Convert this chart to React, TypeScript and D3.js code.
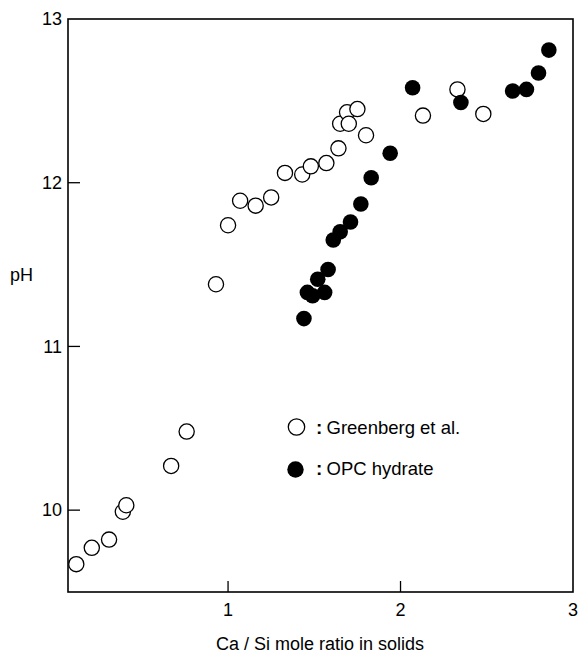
import * as d3 from "d3";

const W = 578;
const H = 655;
const M = { left: 68, right: 5, top: 19, bottom: 63 };

// Greenberg et al. (open circles)
const greenX = [0.12, 0.21, 0.31, 0.39, 0.41, 0.67, 0.76, 0.93, 1.0, 1.07, 1.16, 1.25, 1.33, 1.43, 1.48, 1.57, 1.64, 1.65, 1.69, 1.7, 1.75, 1.8, 2.13, 2.33, 2.48];
const greenY = [9.67, 9.77, 9.82, 9.99, 10.03, 10.27, 10.48, 11.38, 11.74, 11.89, 11.86, 11.91, 12.06, 12.05, 12.1, 12.12, 12.21, 12.36, 12.43, 12.36, 12.45, 12.29, 12.41, 12.57, 12.42];

// OPC hydrate (filled circles)
const opcX = [1.44, 1.46, 1.49, 1.52, 1.56, 1.58, 1.61, 1.65, 1.71, 1.77, 1.83, 1.94, 2.07, 2.35, 2.65, 2.73, 2.8, 2.86];
const opcY = [11.17, 11.33, 11.31, 11.41, 11.33, 11.47, 11.65, 11.7, 11.76, 11.87, 12.03, 12.18, 12.58, 12.49, 12.56, 12.57, 12.67, 12.81];

const xTicks = [1, 2, 3];
const yTicks = [10, 11, 12, 13];

const FONT = "'Liberation Sans', Arial, Helvetica, sans-serif";

const App = () => {
  const x = d3.scaleLinear().domain([0.072, 3]).range([M.left, W - M.right]);
  const y = d3.scaleLinear().domain([9.5, 13]).range([H - M.bottom, M.top]);

  const x0 = x.range()[0];
  const x1 = x.range()[1];
  const y0 = y.range()[0];
  const y1 = y.range()[1];

  return (
    <div style={{ position: "absolute", left: 0, top: 0 }}>
      <svg width={W} height={H} style={{ display: "block", background: "#fff" }} fontFamily={FONT}>
        {/* frame */}
        <rect x={x0} y={y1} width={x1 - x0} height={y0 - y1} fill="none" stroke="#000" strokeWidth={1.6} />

        {/* y ticks, pointing inward */}
        {yTicks.map((t) => (
          <g key={"y" + t}>
            {t < 13 && <line x1={x0} x2={x0 + 12} y1={y(t)} y2={y(t)} stroke="#000" strokeWidth={1.3} />}
            <text x={x0 - 6} y={y(t)} dy="0.35em" textAnchor="end" fontSize={18}>
              {t}
            </text>
          </g>
        ))}

        {/* x ticks, pointing inward */}
        {xTicks.map((t) => (
          <g key={"x" + t}>
            {t < 3 && <line x1={x(t)} x2={x(t)} y1={y0} y2={y0 - 11} stroke="#000" strokeWidth={1.3} />}
            <text x={x(t)} y={y0 + 24} textAnchor="middle" fontSize={18}>
              {t}
            </text>
          </g>
        ))}

        {/* axis titles */}
        <text x={10} y={275} dy="0.35em" fontSize={18}>
          pH
        </text>
        <text x={320} y={650} textAnchor="middle" fontSize={18}>
          Ca / Si mole ratio in solids
        </text>

        {/* data */}
        {greenX.map((v, i) => (
          <circle key={"g" + i} cx={x(v)} cy={y(greenY[i])} r={7.6} fill="#fff" stroke="#000" strokeWidth={1.3} />
        ))}
        {opcX.map((v, i) => (
          <circle key={"o" + i} cx={x(v)} cy={y(opcY[i])} r={7.8} fill="#000" />
        ))}

        {/* legend */}
        <circle cx={296.5} cy={427} r={8.2} fill="#fff" stroke="#000" strokeWidth={1.3} />
        <text x={316} y={434} fontSize={19} fontWeight="bold">:</text>
        <text x={326.5} y={434} fontSize={18.5}>Greenberg et al.</text>
        <circle cx={295.5} cy={469.5} r={8.2} fill="#000" />
        <text x={316} y={475} fontSize={19} fontWeight="bold">:</text>
        <text x={326.5} y={475} fontSize={18.5}>OPC hydrate</text>
      </svg>
    </div>
  );
};

export default App;
